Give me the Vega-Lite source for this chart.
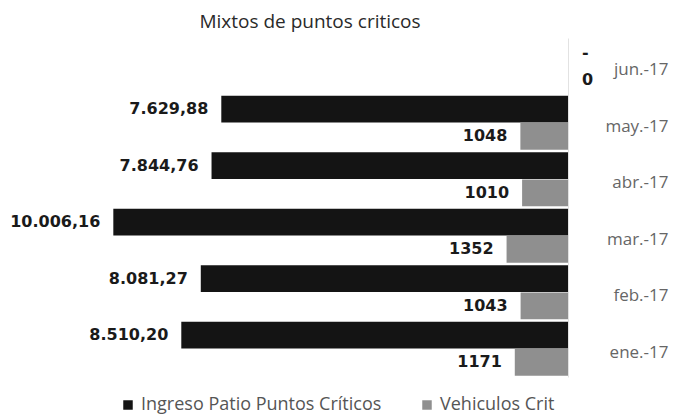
{
  "$schema": "https://vega.github.io/schema/vega-lite/v6.json",
  "width": 568,
  "height": 339,
  "autosize": {"type": "none"},
  "padding": {"left": 0, "top": 38, "right": 108, "bottom": 40},
  "background": "white",
  "title": {
    "text": "Mixtos de puntos criticos",
    "anchor": "middle",
    "dx": 26,
    "offset": 6,
    "font": "Open Sans",
    "fontSize": 19,
    "fontWeight": "normal",
    "color": "#2a2a2a"
  },
  "data": {
    "values": [
      {"mes": "jun.-17", "serie": "Ingreso Patio Puntos Críticos", "valor": 0, "etiqueta": "-"},
      {"mes": "jun.-17", "serie": "Vehiculos Crit", "valor": 0, "etiqueta": "0"},
      {"mes": "may.-17", "serie": "Ingreso Patio Puntos Críticos", "valor": 7629.88, "etiqueta": "7.629,88"},
      {"mes": "may.-17", "serie": "Vehiculos Crit", "valor": 1048, "etiqueta": "1048"},
      {"mes": "abr.-17", "serie": "Ingreso Patio Puntos Críticos", "valor": 7844.76, "etiqueta": "7.844,76"},
      {"mes": "abr.-17", "serie": "Vehiculos Crit", "valor": 1010, "etiqueta": "1010"},
      {"mes": "mar.-17", "serie": "Ingreso Patio Puntos Críticos", "valor": 10006.16, "etiqueta": "10.006,16"},
      {"mes": "mar.-17", "serie": "Vehiculos Crit", "valor": 1352, "etiqueta": "1352"},
      {"mes": "feb.-17", "serie": "Ingreso Patio Puntos Críticos", "valor": 8081.27, "etiqueta": "8.081,27"},
      {"mes": "feb.-17", "serie": "Vehiculos Crit", "valor": 1043, "etiqueta": "1043"},
      {"mes": "ene.-17", "serie": "Ingreso Patio Puntos Críticos", "valor": 8510.20, "etiqueta": "8.510,20"},
      {"mes": "ene.-17", "serie": "Vehiculos Crit", "valor": 1171, "etiqueta": "1171"}
    ]
  },
  "encoding": {
    "y": {
      "field": "mes",
      "type": "nominal",
      "sort": ["jun.-17", "may.-17", "abr.-17", "mar.-17", "feb.-17", "ene.-17"],
      "scale": {"paddingInner": 0.04, "paddingOuter": 0.02},
      "axis": {
        "orient": "right",
        "title": null,
        "ticks": false,
        "domainColor": "#e2e2e2",
        "labelAlign": "right",
        "labelPadding": 100,
        "labelFont": "Open Sans",
        "labelFontSize": 17,
        "labelColor": "#666666",
        "labelOffset": 4
      }
    },
    "yOffset": {
      "field": "serie",
      "type": "nominal",
      "sort": ["Ingreso Patio Puntos Críticos", "Vehiculos Crit"],
      "scale": {"paddingInner": 0.02}
    },
    "x": {
      "field": "valor",
      "type": "quantitative",
      "scale": {"domain": [0, 12500], "reverse": true},
      "axis": null
    }
  },
  "layer": [
    {
      "mark": {"type": "bar"},
      "encoding": {
        "color": {
          "field": "serie",
          "type": "nominal",
          "scale": {
            "domain": ["Ingreso Patio Puntos Críticos", "Vehiculos Crit"],
            "range": ["#141414", "#8f8f8f"]
          },
          "legend": {
            "title": null,
            "orient": "none",
            "legendX": 119,
            "legendY": 358,
            "direction": "horizontal",
            "columns": 2,
            "symbolType": "square",
            "symbolSize": 90,
            "symbolStrokeWidth": 0,
            "labelFont": "Open Sans",
            "labelFontSize": 18,
            "labelColor": "#555555",
            "labelLimit": 0,
            "columnPadding": 36
          }
        }
      }
    },
    {
      "transform": [{"filter": "datum.valor > 0"}],
      "mark": {
        "type": "text",
        "align": "right",
        "baseline": "middle",
        "dx": -13,
        "font": "DejaVu Sans",
        "fontSize": 16,
        "fontWeight": "bold",
        "color": "#1a1a1a"
      },
      "encoding": {"text": {"field": "etiqueta"}}
    },
    {
      "transform": [{"filter": "datum.valor == 0"}],
      "mark": {
        "type": "text",
        "align": "left",
        "baseline": "middle",
        "dx": 14,
        "font": "DejaVu Sans",
        "fontSize": 16,
        "fontWeight": "bold",
        "color": "#1a1a1a"
      },
      "encoding": {"text": {"field": "etiqueta"}}
    }
  ],
  "config": {"view": {"stroke": null}}
}
